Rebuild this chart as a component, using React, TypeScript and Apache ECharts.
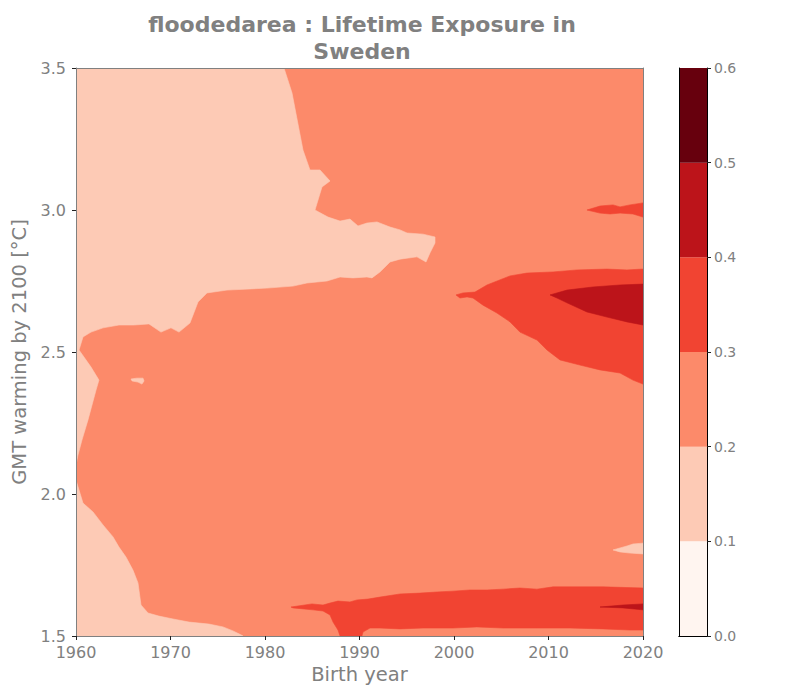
import React, { useEffect, useRef } from "react";
import * as echarts from "echarts";

// ---- Axis / colour-scale values ----
const xTicks = [1960, 1970, 1980, 1990, 2000, 2010, 2020];
const yTicks = [1.5, 2.0, 2.5, 3.0, 3.5];
const contourLevels = [0, 0.1, 0.2, 0.3, 0.4, 0.5, 0.6];
const levelColors = ["#fff5f0", "#fdcab5", "#fc8a6a", "#f14432", "#bc141a", "#67000d"];

// ---- Contour regions, [birth year, GMT warming] ----
const regionFull: number[][] = [
  [1960, 1.5], [2020, 1.5], [2020, 3.5], [1960, 3.5],
];
// 0.1-0.2 : upper-left
const lightUpperLeft: number[][] = [
  [1960, 3.5], [1982.01, 3.5], [1982.86, 3.412], [1984.02, 3.211], [1984.76, 3.141],
  [1985.82, 3.141], [1986.88, 3.102], [1986.03, 3.081], [1985.29, 3.0], [1986.67, 2.975],
  [1987.94, 2.961], [1988.99, 2.968], [1989.84, 2.944], [1990.79, 2.954], [1991.85, 2.958],
  [1993.23, 2.94], [1994.29, 2.93], [1995.03, 2.919], [1996.72, 2.915], [1997.99, 2.905],
  [1997.99, 2.884], [1997.46, 2.849], [1997.04, 2.817], [1996.08, 2.835], [1994.29, 2.827],
  [1993.23, 2.817], [1992.17, 2.782], [1991.32, 2.761], [1990.79, 2.764], [1989.31, 2.761],
  [1987.94, 2.764], [1986.56, 2.75], [1984.44, 2.743], [1982.96, 2.732], [1980.21, 2.725],
  [1975.98, 2.718], [1973.86, 2.708], [1972.91, 2.676], [1972.59, 2.648], [1972.06, 2.602],
  [1970.9, 2.57], [1970.05, 2.585], [1968.99, 2.57], [1967.72, 2.599], [1966.14, 2.595],
  [1964.55, 2.595], [1962.86, 2.585], [1961.59, 2.57], [1960.74, 2.553], [1960.32, 2.507],
  [1961.59, 2.447], [1962.43, 2.401], [1962.12, 2.366], [1961.27, 2.261], [1960.63, 2.19],
  [1960.21, 2.137], [1960, 2.102],
];
// 0.1-0.2 : lower-left
const lightLowerLeft: number[][] = [
  [1960, 2.049], [1960.32, 2.014], [1960.74, 1.968], [1961.8, 1.937], [1962.86, 1.891],
  [1963.92, 1.849], [1964.55, 1.813], [1965.29, 1.778], [1966.03, 1.732], [1966.56, 1.687],
  [1966.88, 1.609], [1967.62, 1.581], [1968.78, 1.57], [1970.26, 1.56], [1971.96, 1.549],
  [1974.07, 1.542], [1975.56, 1.532], [1976.61, 1.518], [1977.46, 1.504], [1977.67, 1.5],
  [1960, 1.5],
];
// 0.1-0.2 : small island
const lightIsland: number[][] = [
  [1965.82, 2.405], [1966.46, 2.408], [1967.09, 2.408], [1967.2, 2.398],
  [1966.98, 2.387], [1966.56, 2.394], [1965.93, 2.398],
];
// 0.1-0.2 : right edge tongue
const lightRight: number[][] = [
  [2016.83, 1.803], [2017.57, 1.81], [2018.31, 1.817], [2018.94, 1.824], [2020, 1.827],
  [2020, 1.789], [2018.62, 1.792], [2017.57, 1.796],
];
// 0.3-0.4 : streak near 3.0
const redStreak: number[][] = [
  [2014.07, 3.0], [2015.45, 3.014], [2016.83, 3.018], [2017.57, 3.011], [2018.62, 3.018],
  [2020, 3.025], [2020, 2.975], [2018.94, 2.986], [2017.57, 2.989], [2016.51, 2.986],
  [2015.45, 2.989],
];
// 0.3-0.4 : wedge 2.4-2.8
const redWedge: number[][] = [
  [2000.21, 2.701], [2000.95, 2.708], [2002.22, 2.711], [2003.49, 2.736], [2005.93, 2.768],
  [2007.72, 2.778], [2010.48, 2.782], [2013.02, 2.789], [2016.19, 2.792], [2018.31, 2.789],
  [2020, 2.792], [2020, 2.387], [2018.94, 2.401], [2017.57, 2.426], [2015.45, 2.437],
  [2013.33, 2.454], [2011.22, 2.472], [2009.84, 2.507], [2008.78, 2.542], [2006.98, 2.57],
  [2005.93, 2.606], [2004.55, 2.637], [2003.07, 2.665], [2002.01, 2.69], [2001.38, 2.694],
  [2000.63, 2.69],
];
// 0.4-0.5 : core of wedge
const darkWedge: number[][] = [
  [2010.16, 2.701], [2011.96, 2.718], [2014.71, 2.729], [2017.57, 2.736], [2020, 2.739],
  [2020, 2.595], [2018.31, 2.606], [2016.19, 2.623], [2014.07, 2.641], [2011.96, 2.673],
  [2010.9, 2.69],
];
// 0.3-0.4 : band near 1.6
const redBand: number[][] = [
  [1982.75, 1.602], [1984.97, 1.613], [1986.14, 1.609], [1986.88, 1.616], [1987.72, 1.623],
  [1988.99, 1.62], [1989.74, 1.627], [1990.9, 1.63], [1992.17, 1.637], [1994.29, 1.648],
  [1996.4, 1.651], [1998.2, 1.655], [1999.89, 1.658], [2001.69, 1.662], [2003.49, 1.662],
  [2005.19, 1.665], [2006.98, 1.669], [2008.78, 1.665], [2010.48, 1.673], [2012.28, 1.673],
  [2015.77, 1.673], [2020, 1.669], [2020, 1.521], [2018.62, 1.521], [2015.77, 1.525],
  [2012.28, 1.528], [2008.78, 1.528], [2005.19, 1.528], [2002.43, 1.532], [1999.89, 1.528],
  [1996.72, 1.528], [1994.29, 1.525], [1992.17, 1.528], [1991.11, 1.528], [1990.37, 1.514],
  [1990.26, 1.5], [1987.94, 1.5], [1987.72, 1.521], [1987.2, 1.549], [1986.88, 1.574],
  [1986.14, 1.588], [1985.08, 1.592], [1982.96, 1.599],
];
// 0.4-0.5 : thin streak in band
const darkBand: number[][] = [
  [2015.45, 1.602], [2017.88, 1.609], [2020, 1.613], [2020, 1.592], [2017.88, 1.599],
];

const regions = [
  { level: 2, pts: regionFull },
  { level: 1, pts: lightUpperLeft },
  { level: 1, pts: lightLowerLeft },
  { level: 1, pts: lightIsland },
  { level: 1, pts: lightRight },
  { level: 3, pts: redStreak },
  { level: 3, pts: redWedge },
  { level: 4, pts: darkWedge },
  { level: 3, pts: redBand },
  { level: 4, pts: darkBand },
];

const FONT = "DejaVu Sans";
const GRAY = "#808080";

export default function App() {
  const ref = useRef<HTMLDivElement>(null);
  useEffect(() => {
    if (!ref.current) return;
    const chart = echarts.init(ref.current, undefined, { renderer: "svg" });
    const lineOnly = (extra: any) => ({
      type: "value",
      axisLine: { show: true, lineStyle: { color: GRAY, width: 1 } },
      axisTick: { show: false },
      axisLabel: { show: false },
      splitLine: { show: false },
      z: 10,
      ...extra,
    });
    const cbLine = (extra: any) => ({
      type: "category",
      data: ["cb"],
      axisLine: { show: true, lineStyle: { color: "#000", width: 1 } },
      axisTick: { show: false },
      axisLabel: { show: false },
      splitLine: { show: false },
      z: 10,
      ...extra,
    });
    const option: any = {
      animation: false,
      backgroundColor: "#fff",
      textStyle: { fontFamily: FONT },
      title: {
        text: "floodedarea : Lifetime Exposure in\nSweden",
        left: 357,
        top: 6,
        textAlign: "center",
        textStyle: { fontSize: 22, fontWeight: "bold", color: GRAY, fontFamily: FONT, lineHeight: 27 },
      },
      grid: [
        { left: 76, top: 68, width: 567, height: 568 },
        { left: 679, top: 68, width: 28, height: 568 },
      ],
      xAxis: [
        {
          gridIndex: 0,
          type: "value",
          min: xTicks[0],
          max: xTicks[xTicks.length - 1],
          interval: 10,
          position: "bottom",
          axisLine: { show: true, lineStyle: { color: GRAY } },
          axisTick: { show: true, length: 4, lineStyle: { color: "#222" } },
          axisLabel: { fontSize: 16, lineHeight: 16, color: GRAY, margin: 8, fontFamily: FONT, formatter: (v: number) => String(v) },
          splitLine: { show: false },
          name: "Birth year",
          nameLocation: "middle",
          nameGap: 28,
          nameTextStyle: { fontSize: 19.5, color: GRAY, fontFamily: FONT },
          z: 10,
        },
        lineOnly({ gridIndex: 0, min: xTicks[0], max: xTicks[xTicks.length - 1], position: "top" }),
        cbLine({ gridIndex: 1, position: "bottom" }),
        cbLine({ gridIndex: 1, position: "top" }),
      ],
      yAxis: [
        {
          gridIndex: 0,
          type: "value",
          min: yTicks[0],
          max: yTicks[yTicks.length - 1],
          interval: 0.5,
          position: "left",
          axisLine: { show: true, lineStyle: { color: GRAY } },
          axisTick: { show: true, length: 4, lineStyle: { color: "#222" } },
          axisLabel: { fontSize: 16, lineHeight: 16, color: GRAY, margin: 10, fontFamily: FONT, formatter: (v: number) => v.toFixed(1) },
          splitLine: { show: false },
          name: "GMT warming by 2100 [°C]",
          nameLocation: "middle",
          nameGap: 44,
          nameRotate: 90,
          nameTextStyle: { fontSize: 19.5, color: GRAY, fontFamily: FONT },
          z: 10,
        },
        lineOnly({ gridIndex: 0, min: yTicks[0], max: yTicks[yTicks.length - 1], position: "right" }),
        {
          gridIndex: 1,
          type: "value",
          min: 0,
          max: 0.6,
          interval: 0.1,
          position: "left",
          axisLine: { show: true, lineStyle: { color: "#000" } },
          axisTick: { show: false },
          axisLabel: { show: false },
          splitLine: { show: false },
          z: 10,
        },
        {
          gridIndex: 1,
          type: "value",
          min: 0,
          max: 0.6,
          interval: 0.1,
          position: "right",
          axisLine: { show: true, lineStyle: { color: "#000" } },
          axisTick: { show: true, length: 4, lineStyle: { color: "#222" } },
          axisLabel: { fontSize: 14, color: GRAY, margin: 7, fontFamily: FONT, formatter: (v: number) => v.toFixed(1) },
          splitLine: { show: false },
          z: 10,
        },
      ],
      series: [
        {
          type: "custom",
          xAxisIndex: 0,
          yAxisIndex: 0,
          silent: true,
          clip: true,
          encode: { x: 0, y: 1 },
          data: regions.map((r, i) => [r.pts[0][0], r.pts[0][1], i]),
          renderItem: (params: any, api: any) => {
            const r = regions[api.value(2)];
            const points = r.pts.map((p) => api.coord(p));
            const c = levelColors[r.level];
            return {
              type: "polygon",
              shape: { points },
              style: { fill: c, stroke: c, lineWidth: 0.6 },
            };
          },
        },
        ...levelColors.map((c, i) => ({
          type: "bar",
          xAxisIndex: 2,
          yAxisIndex: 3,
          stack: "cb",
          silent: true,
          barWidth: "100%",
          itemStyle: { color: c },
          data: [+(contourLevels[i + 1] - contourLevels[i]).toFixed(3)],
        })),
      ],
    };
    chart.setOption(option);
    return () => chart.dispose();
  }, []);
  return (
    <div
      ref={ref}
      style={{ position: "fixed", left: 0, top: 0, width: 800, height: 700, background: "#fff" }}
    />
  );
}
